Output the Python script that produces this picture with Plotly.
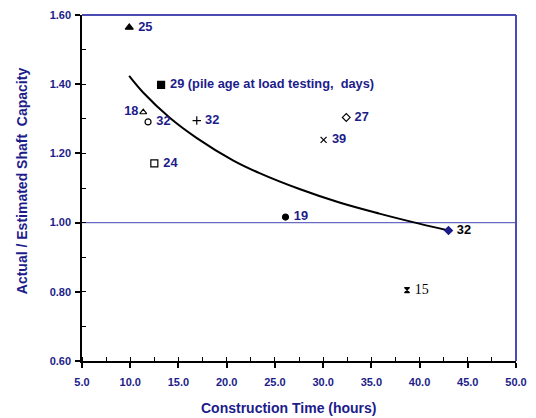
import plotly.graph_objects as go

# ---- data ----
pt_x = [9.9, 13.2, 11.35, 11.85, 16.9, 12.5, 32.4, 30.05, 26.1, 43.0, 38.7]
pt_y = [1.564, 1.398, 1.319, 1.291, 1.295, 1.171, 1.304, 1.239, 1.016, 0.977, 0.805]
pt_label = ["25", "29 (pile age at load testing,\u00a0 days)", "18", "32", "32", "24",
            "27", "39", "19", "32", "15"]
pt_symbol = ["triangle-up", "square", "triangle-up-open", "circle-open", "cross-thin",
             "square-open", "diamond-open", "x-thin", "circle", "diamond", "hourglass"]

curve_x = [9.89, 11.34, 14.10, 16.87, 20.65, 23.41, 27.55, 31.69, 35.83, 39.96, 43.0]
curve_y = [1.424, 1.376, 1.303, 1.245, 1.180, 1.143, 1.097, 1.058, 1.026, 0.997, 0.977]

ref_y = 1.00
x_ticks = [5, 10, 15, 20, 25, 30, 35, 40, 45, 50]
y_ticks = [0.6, 0.8, 1.0, 1.2, 1.4, 1.6]

x_title = "Construction Time (hours)"
y_title = "Actual / Estimated Shaft\u00a0 Capacity"

NAVY = "#1c1c8a"
BLUE = "#4b4bb4"
FONT = "Arial, Liberation Sans, sans-serif"

fig = go.Figure()

# reference line at 1.00
fig.add_shape(type="line", xref="paper", x0=0, x1=1, yref="y", y0=ref_y, y1=ref_y,
              line=dict(color="#6a6ac4", width=1.2), layer="below")

# trend curve
fig.add_trace(go.Scatter(x=curve_x, y=curve_y, mode="lines",
                         line=dict(color="black", width=2, shape="spline", smoothing=1.0),
                         hoverinfo="skip", showlegend=False))

sizes = {"triangle-up": 7, "square": 7, "triangle-up-open": 6, "circle-open": 6, "cross-thin": 6,
         "square-open": 7, "diamond-open": 6, "x-thin": 6, "circle": 6, "diamond": 6, "hourglass": 5}

for i in range(len(pt_x)):
    sym = pt_symbol[i]
    col = NAVY if sym == "diamond" else "black"
    lab = pt_label[i]
    if i == 10:
        tfont = dict(family="Liberation Serif, Times New Roman, serif", size=14, color="black")
    elif i == 9:
        tfont = dict(family=FONT, size=12.8, color="black", weight="bold")
    else:
        tfont = dict(family=FONT, size=12.8, color=NAVY, weight="bold")
    pos = "middle left" if i == 2 else "middle right"
    fig.add_trace(go.Scatter(
        x=[pt_x[i]], y=[pt_y[i]], mode="markers+text", text=[" " + lab if pos == "middle right" else lab],
        textposition=pos, textfont=tfont,
        marker=dict(symbol=sym, size=sizes[sym], color=col, line=dict(color=col, width=1.2)),
        showlegend=False, cliponaxis=False))

# top and right borders in blue
fig.add_shape(type="line", xref="paper", yref="paper", x0=0, x1=1, y0=1, y1=1,
              line=dict(color=BLUE, width=2))
fig.add_shape(type="line", xref="paper", yref="paper", x0=1, x1=1, y0=0, y1=1,
              line=dict(color=BLUE, width=2))

# axis titles (placed like the reference, slightly off plot-centre)
fig.add_annotation(text=x_title, xref="paper", yref="paper", x=0.477, y=-0.136,
                   xanchor="center", yanchor="middle", showarrow=False,
                   font=dict(family=FONT, size=14, color=NAVY, weight="bold"))
fig.add_annotation(text=y_title, xref="paper", yref="paper", x=-0.138, y=0.52, textangle=-90,
                   xanchor="center", yanchor="middle", showarrow=False,
                   font=dict(family=FONT, size=14, color=NAVY, weight="bold"))

fig.update_xaxes(range=[5, 50], tickvals=x_ticks, ticktext=[f"{v:.1f}" for v in x_ticks],
                 automargin=False, ticklabelstandoff=5,
                 showgrid=False, zeroline=False, showline=True, linecolor="black", linewidth=1.5,
                 ticks="outside", ticklen=5, tickcolor="black", tickwidth=1.5,
                 minor=dict(dtick=2.5, tick0=5, ticks="inside", ticklen=4, tickcolor="black", tickwidth=1.2),
                 tickfont=dict(family=FONT, size=11, color=NAVY, weight="bold"))
fig.update_yaxes(range=[0.6, 1.6], tickvals=y_ticks, ticktext=[f"{v:.2f}" for v in y_ticks],
                 automargin=False, ticklabelstandoff=2,
                 showgrid=False, zeroline=False, showline=True, linecolor="black", linewidth=1.5,
                 ticks="outside", ticklen=5, tickcolor="black", tickwidth=1.5,
                 minor=dict(dtick=0.1, tick0=0.6, ticks="inside", ticklen=4, tickcolor="black", tickwidth=1.2),
                 tickfont=dict(family=FONT, size=11, color=NAVY, weight="bold"))

# page body has an 8px margin, so size and place the figure to land on the reference layout
fig.update_layout(width=528, height=410, margin=dict(l=74, r=20, t=7, b=57),
                  plot_bgcolor="white", paper_bgcolor="white", showlegend=False)

fig.write_html("out.html")
